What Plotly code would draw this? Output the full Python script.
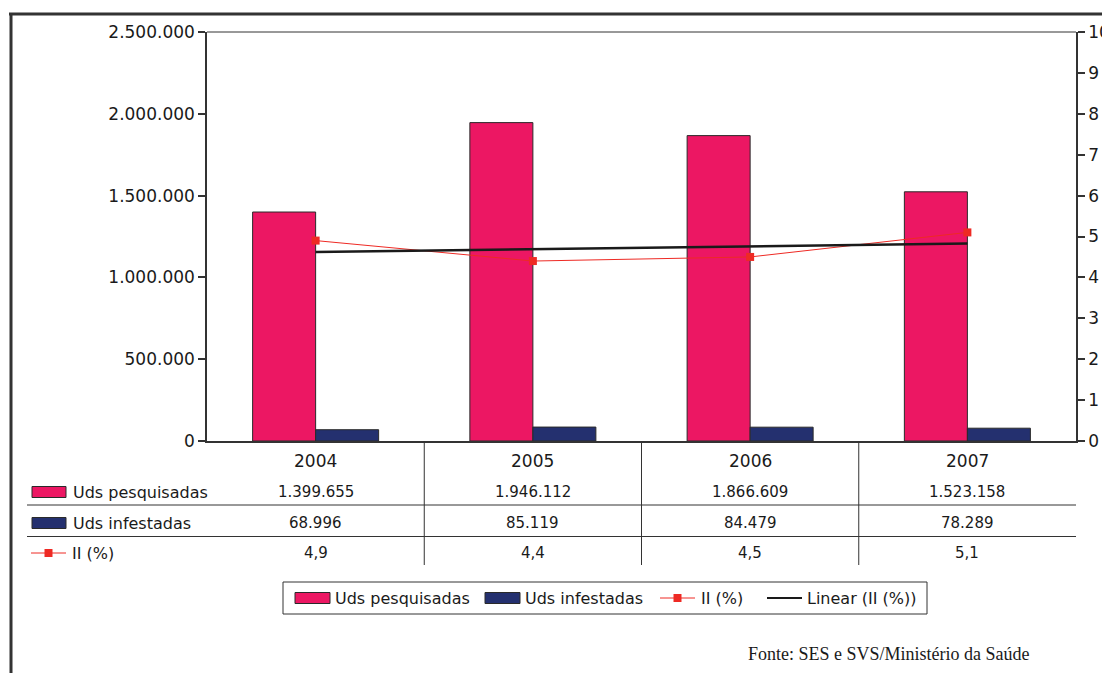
import numpy as np
import plotly.graph_objects as go

# Data
years = ["2004", "2005", "2006", "2007"]
uds_pesquisadas = [1399655, 1946112, 1866609, 1523158]
uds_infestadas = [68996, 85119, 84479, 78289]
ii_pct = [4.9, 4.4, 4.5, 5.1]

series_names = ["Uds pesquisadas", "Uds infestadas", "II (%)", "Linear (II (%))"]

PINK = "#EC1763"
NAVY = "#24306F"
RED = "#EE2A24"
EDGE = "#2a2a2a"
TXT = "#1a1a1a"
FONT = "DejaVu Sans"

W, H = 1102, 673
L, R, T, B = 207, 1076, 32, 441  # plot area in pixels


def px(x):
    return (x - L) / (R - L)


def py(y):
    return (B - y) / (B - T)


def fmt_int(v):
    return f"{v:,}".replace(",", ".")


def fmt_dec(v):
    return f"{v:.1f}".replace(".", ",")


# Linear trend of II (%)
xi = np.arange(1, len(ii_pct) + 1)
slope, intercept = np.polyfit(xi, ii_pct, 1)
trend = slope * xi + intercept

fig = go.Figure()
fig.add_trace(go.Bar(x=years, y=uds_pesquisadas, name=series_names[0],
                     marker=dict(color=PINK, line=dict(color=EDGE, width=1))))
fig.add_trace(go.Bar(x=years, y=uds_infestadas, name=series_names[1],
                     marker=dict(color=NAVY, line=dict(color=EDGE, width=1))))
fig.add_trace(go.Scatter(x=years, y=ii_pct, name=series_names[2], yaxis="y2",
                         mode="lines+markers",
                         line=dict(color=RED, width=1),
                         marker=dict(symbol="square", size=8, color=RED)))
fig.add_trace(go.Scatter(x=years, y=trend, name=series_names[3], yaxis="y2",
                         mode="lines", line=dict(color="#1a1a1a", width=2.5)))

shapes = []
annotations = []
line_col = "#333333"

# Outer frame (top and left)
shapes.append(dict(type="line", xref="paper", yref="paper",
                   x0=px(9), x1=px(1102), y0=py(14), y1=py(14),
                   line=dict(color="#333", width=3)))
shapes.append(dict(type="line", xref="paper", yref="paper",
                   x0=px(11), x1=px(11), y0=py(13), y1=py(673),
                   line=dict(color="#333", width=3)))

# Data table grid
for i in range(len(years) - 1):
    shapes.append(dict(type="line", xref="x", yref="paper",
                       x0=i + 0.5, x1=i + 0.5, y0=py(441), y1=py(565),
                       line=dict(color=line_col, width=1)))
for yy in (505, 536.5):
    shapes.append(dict(type="line", xref="paper", yref="paper",
                       x0=px(27), x1=px(1076), y0=py(yy), y1=py(yy),
                       line=dict(color=line_col, width=1)))

# Table rows (category index positions on the x axis)
row_y = {"year": 461, 0: 492, 1: 523, 2: 553}
for i, yr in enumerate(years):
    cells = [(row_y["year"], yr, 17), (row_y[0], fmt_int(uds_pesquisadas[i]), 15),
             (row_y[1], fmt_int(uds_infestadas[i]), 15), (row_y[2], fmt_dec(ii_pct[i]), 15)]
    for yy, txt, size in cells:
        annotations.append(dict(x=i, y=py(yy), xref="x", yref="paper",
                                xanchor="center", yanchor="middle",
                                text=txt, showarrow=False,
                                font=dict(family=FONT, size=size, color=TXT)))


def swatch(x0, x1, yc, h, color):
    shapes.append(dict(type="rect", xref="paper", yref="paper",
                       x0=px(x0), x1=px(x1), y0=py(yc - h / 2), y1=py(yc + h / 2),
                       fillcolor=color, line=dict(color=EDGE, width=1)))


def line_key(x0, x1, yc, color, width, marker):
    shapes.append(dict(type="line", xref="paper", yref="paper",
                       x0=px(x0), x1=px(x1), y0=py(yc), y1=py(yc),
                       line=dict(color=color, width=width)))
    if marker:
        xm = (x0 + x1) / 2
        shapes.append(dict(type="rect", xref="paper", yref="paper",
                           x0=px(xm - 4), x1=px(xm + 4), y0=py(yc - 4), y1=py(yc + 4),
                           fillcolor=color, line=dict(width=0)))


def label(x, yc, text, size=16):
    annotations.append(dict(x=px(x), y=py(yc), xref="paper", yref="paper",
                            xanchor="left", yanchor="middle", text=text,
                            showarrow=False,
                            font=dict(family=FONT, size=size, color=TXT)))


# Row labels with keys
swatch(32, 66, row_y[0], 11, PINK)
label(71, row_y[0], series_names[0])
swatch(32, 66, row_y[1], 11, NAVY)
label(71, row_y[1], series_names[1])
line_key(31, 66, row_y[2], RED, 1, True)
label(70, row_y[2], series_names[2])

# Legend box
shapes.append(dict(type="rect", xref="paper", yref="paper",
                   x0=px(283), x1=px(927), y0=py(582), y1=py(614),
                   line=dict(color=line_col, width=1), fillcolor="rgba(0,0,0,0)"))
leg_y = 598
swatch(295, 330, leg_y, 11, PINK)
label(333, leg_y, series_names[0])
swatch(485, 520, leg_y, 11, NAVY)
label(523, leg_y, series_names[1])
line_key(660, 695, leg_y, RED, 1, True)
label(699, leg_y, series_names[2])
line_key(767, 802, leg_y, "#1a1a1a", 2, False)
label(805, leg_y, series_names[3])

# Source note
annotations.append(dict(x=px(1032), y=py(654), xref="paper", yref="paper",
                        xanchor="right", yanchor="middle",
                        text="Fonte: SES e SVS/Ministério da Saúde", showarrow=False,
                        font=dict(family="Liberation Serif", size=18, color=TXT)))

fig.update_layout(
    width=W, height=H,
    margin=dict(l=L, r=W - R, t=T, b=H - B, pad=0),
    paper_bgcolor="white", plot_bgcolor="white",
    separators=",.",
    barmode="group", bargap=0.42, bargroupgap=0,
    showlegend=False,
    font=dict(family=FONT, size=16, color=TXT),
    xaxis=dict(type="category", showticklabels=False, showgrid=False, ticks="",
               showline=True, linecolor=line_col, linewidth=1.5,
               range=[-0.5, 3.5], automargin=False, zeroline=False),
    yaxis=dict(range=[0, 2500000], tickvals=[0, 500000, 1000000, 1500000, 2000000, 2500000],
               tickformat=",d", showgrid=False, zeroline=False,
               showline=True, linecolor=line_col, linewidth=1.5,
               ticks="outside", ticklen=7, tickcolor=line_col, tickwidth=1.5,
               tickfont=dict(family=FONT, size=17, color=TXT),
               automargin=False, mirror=False),
    yaxis2=dict(range=[0, 10], dtick=1, overlaying="y", side="right",
                showgrid=False, zeroline=False,
                showline=True, linecolor=line_col, linewidth=1.5,
                ticks="outside", ticklen=7, tickcolor=line_col, tickwidth=1.5,
                tickfont=dict(family=FONT, size=17, color=TXT),
                automargin=False),
    shapes=shapes + [dict(type="line", xref="paper", yref="paper",
                          x0=0, x1=1, y0=1, y1=1,
                          line=dict(color=line_col, width=1))],
    annotations=annotations,
)

fig.write_html("out.html")
